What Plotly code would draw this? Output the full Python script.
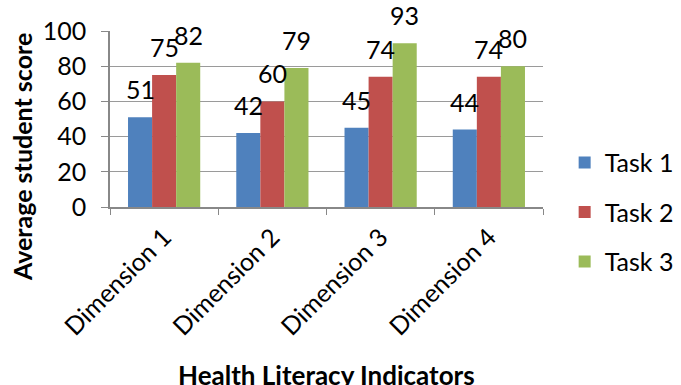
import plotly.graph_objects as go

categories = ["Dimension 1", "Dimension 2", "Dimension 3", "Dimension 4"]
series_names = ["Task 1", "Task 2", "Task 3"]
task1 = [51, 42, 45, 44]
task2 = [75, 60, 74, 74]
task3 = [82, 79, 93, 80]
colors = ["#4F81BD", "#C0504D", "#9BBB59"]

FONT = "Lato"
values = [task1, task2, task3]

fig = go.Figure()
for name, vals, col in zip(series_names, values, colors):
    fig.add_trace(go.Bar(
        x=categories, y=vals, name=name, legendgroup=name,
        marker=dict(color=col, line=dict(width=0)),
    ))

# value labels sitting above each bar
bar_px = 24
for i, vals in enumerate(values):
    for cat, v in zip(categories, vals):
        fig.add_annotation(
            x=cat, y=v, xref="x", yref="y", text=str(v), showarrow=False,
            xshift=(i - 1) * bar_px, yshift=28,
            font=dict(family=FONT, size=25, color="#000000"),
        )

fig.add_annotation(
    text="Average student score", xref="paper", yref="paper",
    x=-0.203, y=0.284, xanchor="center", yanchor="middle", textangle=-90,
    showarrow=False, font=dict(family=FONT, size=25, color="#000000", weight="bold"),
)
fig.add_annotation(
    text="Health Literacy Indicators", xref="paper", yref="paper",
    x=0.5, y=-0.955, xanchor="center", yanchor="middle",
    showarrow=False, font=dict(family=FONT, size=26, color="#000000", weight="bold"),
)

fig.update_layout(
    width=681, height=385,
    margin=dict(l=110, r=138, t=31, b=178, autoexpand=False),
    paper_bgcolor="white", plot_bgcolor="white",
    barmode="group", bargap=0.333, bargroupgap=0,
    font=dict(family=FONT, size=25, color="#000000"),
    legend=dict(
        x=1.05, y=-0.03, xanchor="left", yanchor="middle",
        font=dict(family=FONT, size=25), tracegroupgap=14,
        itemwidth=30,
    ),
    xaxis=dict(
        showline=True, linecolor="#888888", linewidth=1.5,
        ticks="outside", tickson="boundaries", ticklen=6, tickcolor="#888888",
        tickangle=-45, tickfont=dict(family=FONT, size=25),
        ticklabelstandoff=4, showgrid=False,
    ),
    yaxis=dict(
        range=[0, 100], dtick=20, showline=True, linecolor="#888888", linewidth=1.5,
        ticks="outside", ticklen=7, tickcolor="#888888",
        showgrid=True, gridcolor="#9a9a9a", gridwidth=1,
        tickfont=dict(family=FONT, size=25), zeroline=False,
        ticklabelstandoff=10,
    ),
)

fig.write_html("out.html")
